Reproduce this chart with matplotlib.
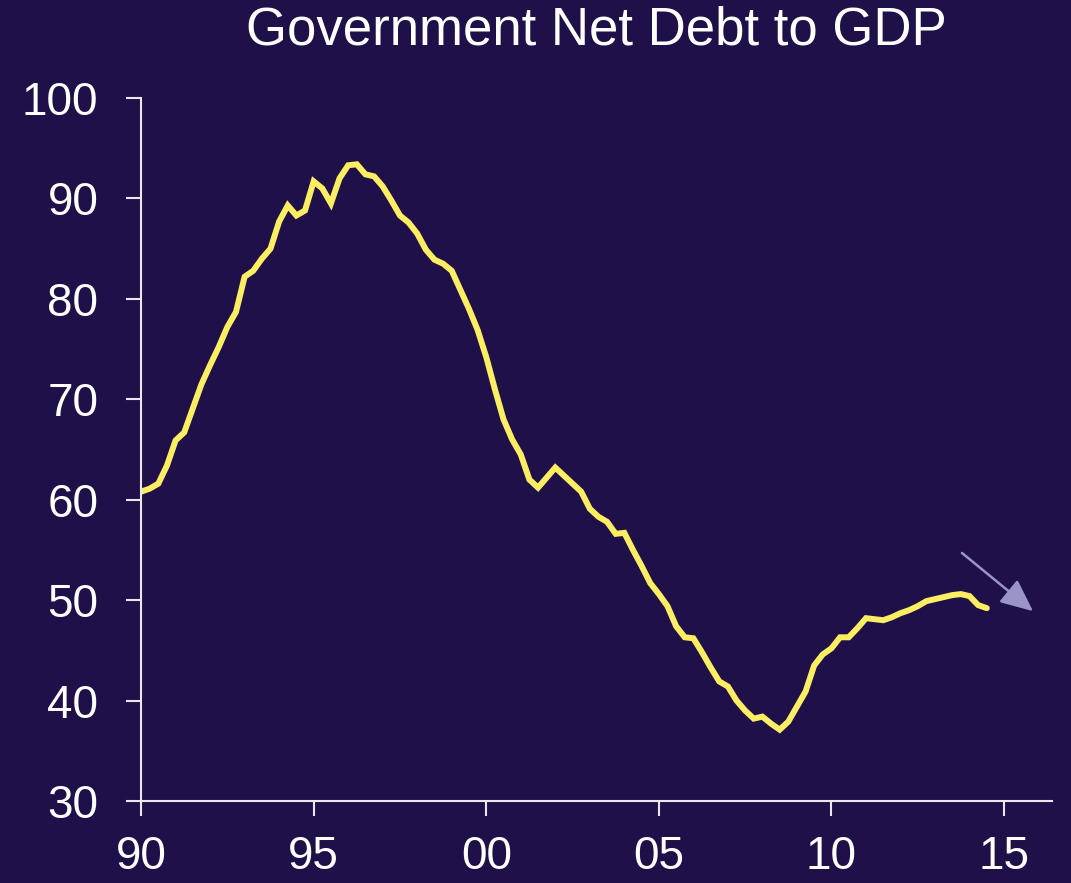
"""Government net debt to GDP, quarterly 1990-2014, on a dark chart."""
import matplotlib
matplotlib.use("Agg")
import matplotlib.pyplot as plt
import numpy as np

BG = "#1F1049"
LINE = "#FCEE62"
ARROW = "#9A94C8"
FG = "#FFFFFF"

# quarterly values starting 1990 Q1
debt_to_gdp = [
    60.8, 61.1, 61.6, 63.4, 65.9, 66.7, 69.1, 71.5, 73.4, 75.2,
    77.2, 78.7, 82.2, 82.8, 84.0, 85.0, 87.7, 89.3, 88.3, 88.8,
    91.7, 91.0, 89.5, 92.0, 93.3, 93.4, 92.4, 92.2, 91.2, 89.8,
    88.3, 87.6, 86.5, 84.9, 83.9, 83.5, 82.8, 80.9, 79.0, 76.9,
    74.2, 71.0, 68.0, 66.0, 64.5, 62.0, 61.2, 62.2, 63.2, 62.4,
    61.6, 60.8, 59.1, 58.3, 57.8, 56.6, 56.7, 55.0, 53.4, 51.7,
    50.6, 49.4, 47.4, 46.3, 46.2, 44.8, 43.3, 41.9, 41.4, 40.0,
    39.0, 38.2, 38.4, 37.7, 37.1, 37.9, 39.4, 40.9, 43.5, 44.6,
    45.2, 46.3, 46.3, 47.2, 48.2, 48.1, 48.0, 48.3, 48.7, 49.0,
    49.4, 49.9, 50.1, 50.3, 50.5, 50.6, 50.4, 49.5, 49.2,
]
start_year = 1990
tick_years = [1990, 1995, 2000, 2005, 2010, 2015]
tick_labels = ["90", "95", "00", "05", "10", "15"]
y_ticks = [30, 40, 50, 60, 70, 80, 90, 100]

# trend arrow (data coords)
arrow_from = (2013.78, 54.7)
arrow_to = (2015.84, 48.9)

plt.rcParams["font.family"] = ["Liberation Sans", "DejaVu Sans"]

fig = plt.figure(figsize=(10.71, 8.83), dpi=100, facecolor=BG)
ax = fig.add_axes([0.1317, 0.0929, 0.8506, 0.7961], facecolor=BG)

years = start_year + np.arange(len(debt_to_gdp)) / 4
ax.plot(years, debt_to_gdp, color=LINE, lw=4.3, solid_capstyle="round",
        solid_joinstyle="miter")

ax.annotate("", xy=arrow_to, xytext=arrow_from,
            arrowprops=dict(arrowstyle="-|>,head_length=1.0,head_width=0.45",
                            color=ARROW, lw=1.8, mutation_scale=20,
                            shrinkA=0, shrinkB=0))

ax.set_xlim(1990, 2016.39)
ax.set_ylim(30, 100)
ax.set_xticks(tick_years)
ax.set_xticklabels(tick_labels)
ax.set_yticks(y_ticks)

for side in ("top", "right"):
    ax.spines[side].set_visible(False)
for side in ("left", "bottom"):
    ax.spines[side].set_color("#E8E8EE")
    ax.spines[side].set_linewidth(1.5)

ax.tick_params(axis="both", colors="#E8E8EE", width=1.5, length=10.8,
               labelsize=33, labelcolor=FG)
ax.tick_params(axis="y", pad=20)
ax.tick_params(axis="x", pad=14)

fig.text(0.557, 0.95, "Government Net Debt to GDP", color=FG, fontsize=38,
         ha="center", va="baseline")

fig.savefig("out.png", dpi=100, facecolor=BG)
